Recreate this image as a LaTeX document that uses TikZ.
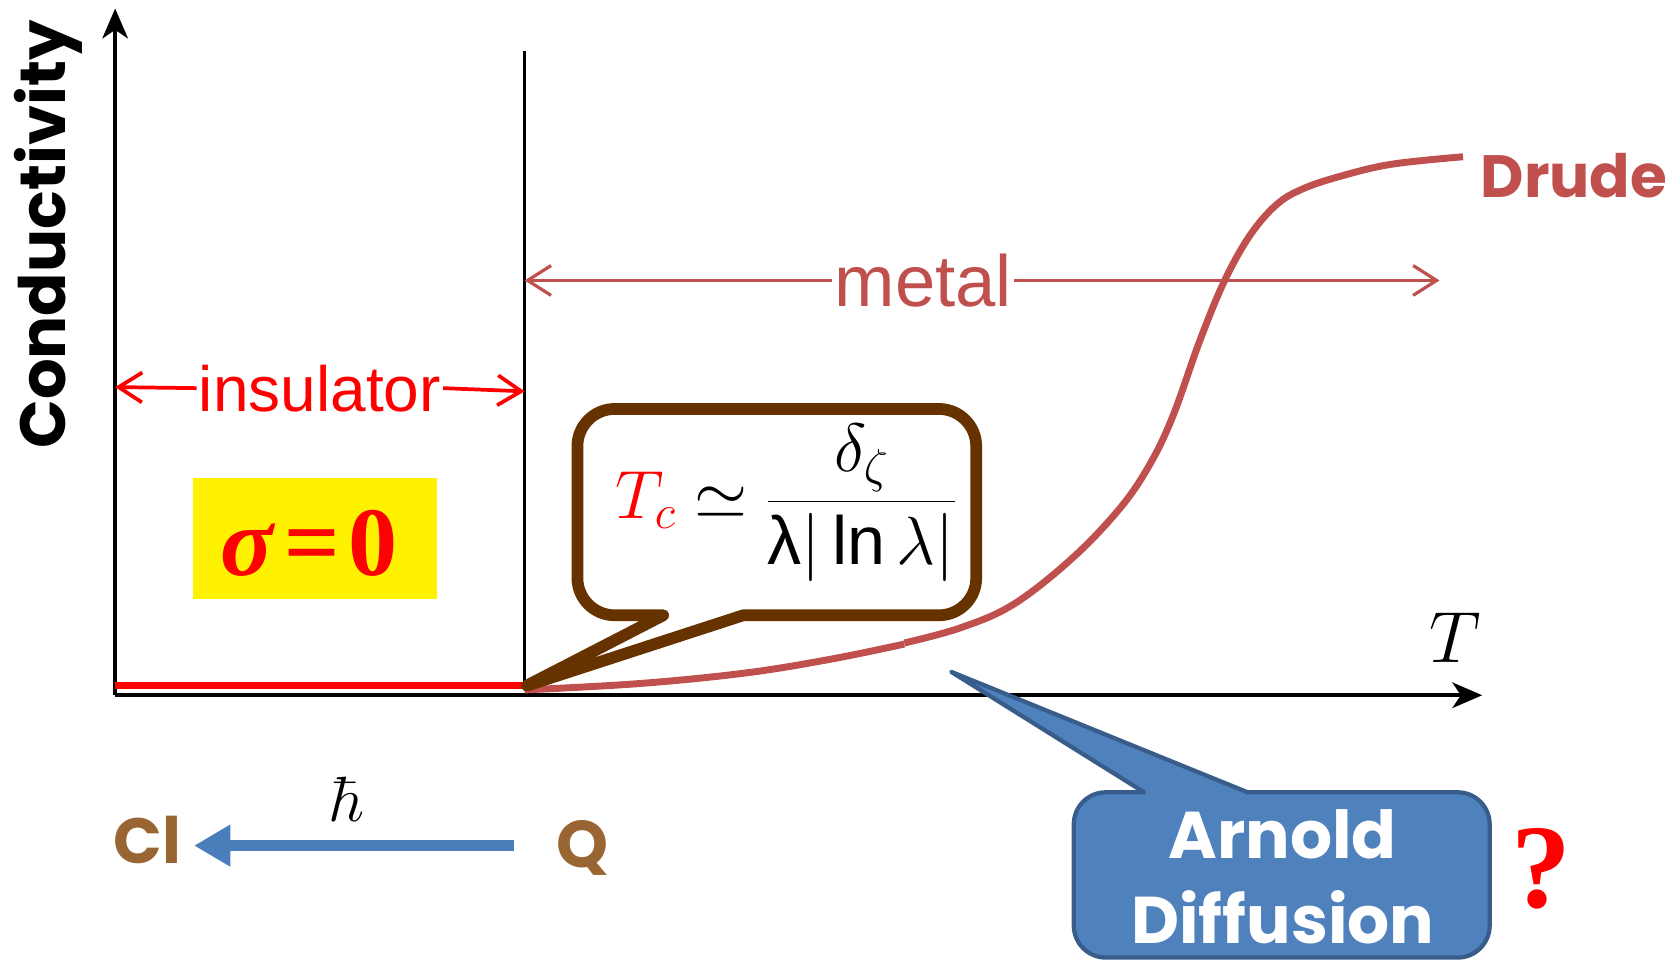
\RequirePackage{fix-cm}
\documentclass[tikz,border=0pt]{standalone}
\usepackage{fontspec}
\usepackage{amsmath}
\usepackage{xcolor}
\usetikzlibrary{arrows.meta, positioning}

\newfontfamily\arialfont{Liberation Sans}
\newfontfamily\timesfont{Liberation Serif}
\newfontfamily\comicfont{Poppins}

\definecolor{drudered}{HTML}{C0504D}
\definecolor{tcbrown}{HTML}{663300}
\definecolor{clbrown}{HTML}{996633}
\definecolor{arnoldblue}{HTML}{4F81BD}
\definecolor{arnoldedge}{HTML}{385D8A}
\definecolor{hbarblue}{HTML}{4A7EBB}

\newcommand{\fsz}[1]{\fontsize{#1}{#1}\selectfont}

\begin{document}
\begin{tikzpicture}[
    x=1pt, y=-1pt,
    axis/.style={line width=3.5pt, -{Stealth[length=28pt, width=24pt, inset=8pt]}},
    insarr/.style={red, line width=3.5pt, -{Straight Barb[length=22pt, width=28pt]}},
    metalarr/.style={drudered, line width=3pt, -{Straight Barb[length=22pt, width=28pt]}},
    hbararr/.style={hbarblue, line width=11pt, -{Triangle[length=34pt, width=37pt]}},
    comiclabel/.style={inner sep=0pt, font=\comicfont\bfseries\fsz{#1}},
    arial/.style={inner sep=2pt, font=\arialfont\fsz{#1}},
    tcbox/.style={draw=tcbrown, line width=11pt, fill=white, line join=round},
    arnoldbox/.style={draw=arnoldedge, line width=4pt, fill=arnoldblue, line join=round}
]
\useasboundingbox (0,0) rectangle (1568,906);

% Axes
\coordinate (o) at (108,652);
\coordinate (ytop) at (108,8);
\coordinate (xend) at (1390,652);
\coordinate (ctop) at (492,48);
\coordinate (cbot) at (492,646);
\draw[axis] (o) -- (ytop);
\draw[axis] (o) -- (xend);
\draw[line width=3pt] (ctop) -- (cbot);
\draw[red, line width=6pt] (108,643) -- (492,643);

\node[comiclabel=60, rotate=90] (cond) at (45,220) {Conductivity};
\node[inner sep=0pt, font=\fsz{68}] (tlabel) at (1365,598) {$T$};

% insulator / metal ranges
\node[arial=60, red] (insul) at (300,364) {insulator};
\coordinate (insL) at (108,363);
\coordinate (insR) at (492,367);
\draw[insarr] (insul.west) -- (insL);
\draw[insarr] (insul.east) -- (insR);

\node[arial=68, drudered] (metal) at (866,263) {metal};
\coordinate (metL) at (492,263);
\coordinate (metR) at (1350,263);
\draw[metalarr] (metal.west) -- (metL);
\draw[metalarr] (metal.east) -- (metR);

% sigma = 0
\node[fill=yellow, minimum width=229pt, minimum height=114pt, inner sep=0pt] (sigbox) at (295.5,505) {};
\node[inner sep=0pt, red, font=\timesfont\bfseries\fsz{92}] (sigma) at (290,510) {\itshape σ\kern9pt=\kern9pt\upshape 0};

% conductivity curve
\draw[drudered, line width=6.5pt] plot[smooth, tension=0.6] coordinates {
    (492,647) (600,641) (700,631) (780,618) (848,604)};
\draw[drudered, line width=6.5pt] plot[smooth, tension=0.6] coordinates {
    (848,603) (900,589) (950,567) (1005,524) (1050,477) (1078,436) (1100,390)
    (1125,320) (1148,264) (1172,221) (1197,192) (1222,177) (1258,165) (1305,154) (1372,147)};
\node[comiclabel=56, drudered] (drude) at (1476,165) {Drude};

% T_c callout
\draw[tcbox] (494,643) -- (697,577) [rounded corners=35pt] -- (915.5,577)
    -- (915.5,383.5) -- (541.5,383.5) -- (541.5,577) [sharp corners] -- (622,577) -- cycle;
\node[inner sep=0pt, font=\fsz{64}] (tc) at (737,472)
    {$\displaystyle \textcolor{red}{T_c}\simeq\frac{\delta_\zeta}{\text{\arialfont λ}|\,\text{\arialfont ln}\,\lambda|}$};

% Arnold diffusion callout
\draw[arnoldbox] (892,630) -- (1073,743) [rounded corners=30pt] -- (1007,743)
    -- (1007,898) -- (1397,898) -- (1397,743) [sharp corners] -- (1170,743) -- cycle;
\node[comiclabel=62, white, align=center, font=\comicfont\bfseries\fontsize{62}{80}\selectfont] (arnold) at (1203,822) {Arnold\\Diffusion};
\node[inner sep=0pt, red, font=\timesfont\bfseries\fsz{112}] (qmark) at (1445,815) {?};

% classical limit
\node[comiclabel=60, clbrown] (cl) at (138,788) {Cl};
\node[comiclabel=62, clbrown] (q) at (546,795) {Q};
\coordinate (hq) at (482,793);
\coordinate (hcl) at (182,793);
\draw[hbararr] (hq) -- (hcl);
\node[inner sep=0pt, font=\fsz{60}] (hbar) at (326,750) {$\hbar$};

\end{tikzpicture}
\end{document}
